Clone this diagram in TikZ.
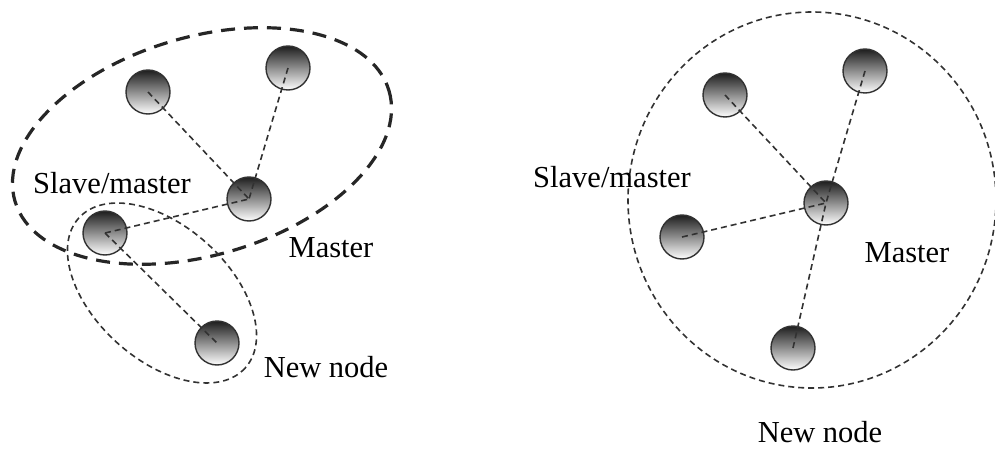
\documentclass[tikz,border=0pt]{standalone}
\usepackage{fontspec}
\setmainfont{Liberation Serif}
\usetikzlibrary{positioning}
\definecolor{cBall}{RGB}{30, 30, 30}
\definecolor{cLine}{RGB}{50, 50, 50}
\tikzset{
  ball/.style    = {circle, draw=cLine, line width=1.4pt, minimum size=44pt,
                    inner sep=0pt, top color=cBall, bottom color=white},
  link/.style    = {draw=cLine, line width=1.6pt, dash pattern=on 6pt off 4pt},
  ring/.style    = {draw=cLine, line width=1.6pt, dash pattern=on 6pt off 4pt},
  bigring/.style = {draw=black!85, line width=3.2pt, dash pattern=on 14pt off 9pt},
  lbl/.style     = {font=\fontsize{30.5}{33}\selectfont, inner sep=0pt},
}
\begin{document}
\begin{tikzpicture}[x=1pt, y=-1pt]
\useasboundingbox (0,0) rectangle (995,449);

%% ─── Left: cluster with new node ─────────────────────
\draw[bigring, rotate around={16.5:(202,146)}] (202,146) ellipse [x radius=195, y radius=109];
\draw[ring, rotate around={-42:(162,293)}] (162,293) ellipse [x radius=112, y radius=67];

\node[ball] (a1) at (148,92)  {};
\node[ball] (a2) at (288,68)  {};
\node[ball] (m1) at (249,199) {};
\node[ball] (s1) at (105,233) {};
\node[ball] (n1) at (217,343) {};

\draw[link] (a1.center) -- (m1.center);
\draw[link] (a2.center) -- (m1.center);
\draw[link] (s1.center) -- (m1.center);
\draw[link] (s1.center) -- (n1.center);

\node[lbl] (ls1) at (112,183) {Slave/master};
\node[lbl] (lm1) at (331,248) {Master};
\node[lbl] (ln1) at (326,367) {New node};

%% ─── Right: star round the master ────────────────────
\draw[ring] (812,200) ellipse [x radius=184, y radius=188];

\node[ball] (b1) at (725,95)  {};
\node[ball] (b2) at (865,71)  {};
\node[ball] (m2) at (826,203) {};
\node[ball] (s2) at (682,237) {};
\node[ball] (n2) at (793,348) {};

\draw[link] (b1.center) -- (m2.center);
\draw[link] (b2.center) -- (m2.center);
\draw[link] (s2.center) -- (m2.center);
\draw[link] (n2.center) -- (m2.center);

\node[lbl] (ls2) at (612,177) {Slave/master};
\node[lbl] (lm2) at (907,253) {Master};
\node[lbl] (ln2) at (820,432) {New node};

\end{tikzpicture}
\end{document}
